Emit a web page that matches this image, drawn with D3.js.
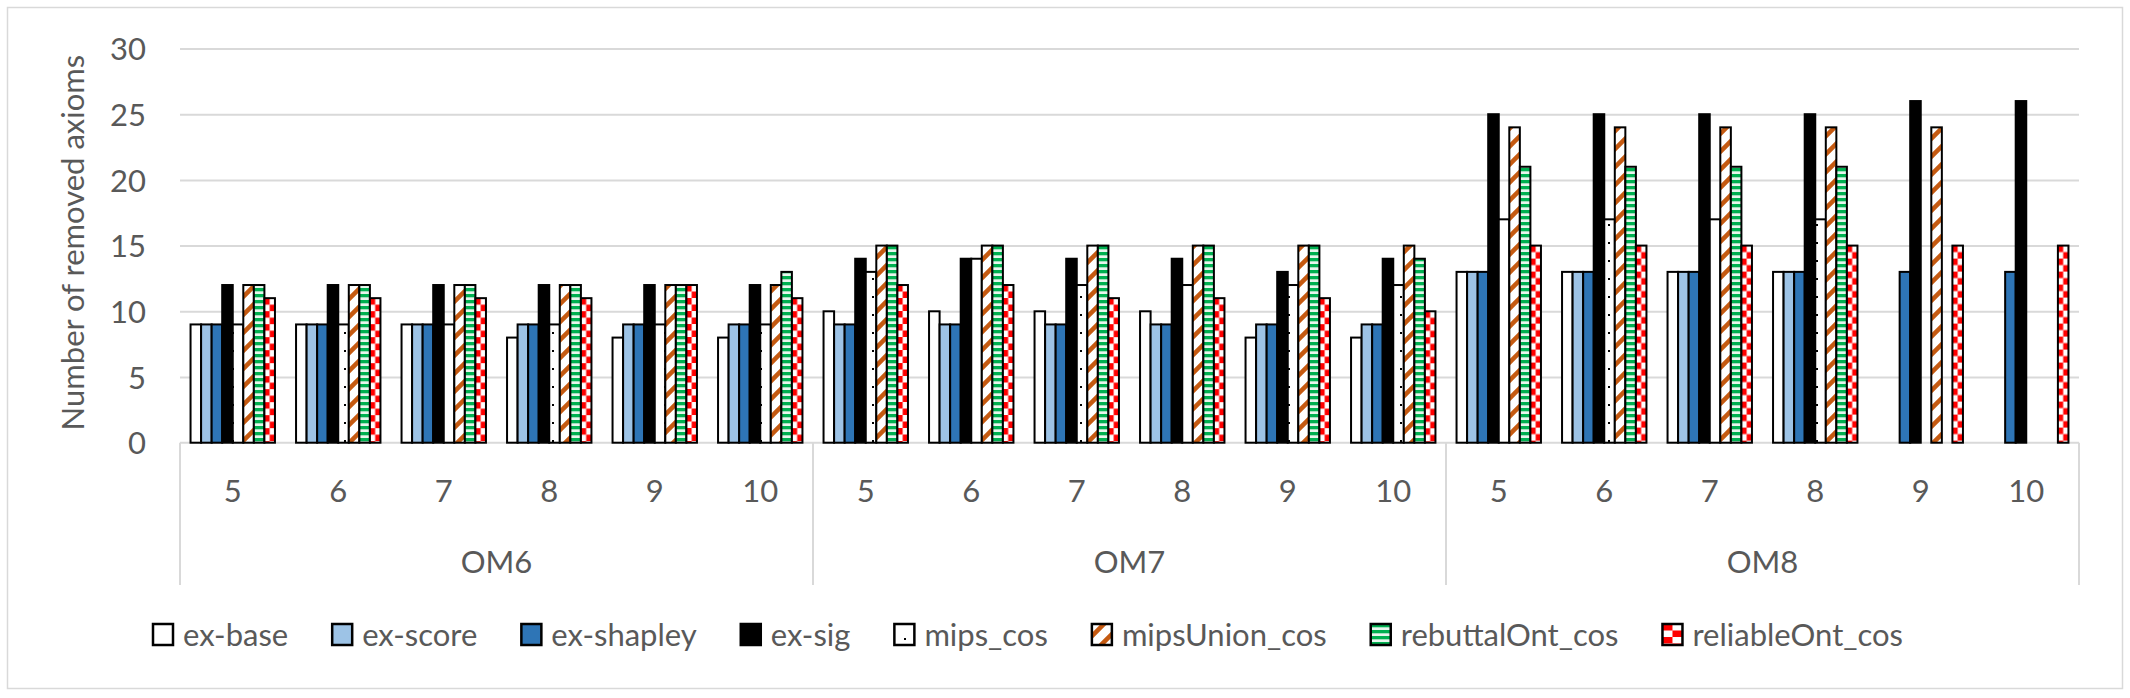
<!DOCTYPE html>
<html>
<head>
<meta charset="utf-8">
<script src="https://cdn.jsdelivr.net/npm/d3@7"></script>
<style>
  html, body { margin: 0; padding: 0; background: #fff; }
  svg { display: block; }
  text { font-family: Lato, "Open Sans", sans-serif; fill: #595959; }
</style>
</head>
<body>
<svg id="chart" width="2130" height="698"></svg>
<script>
// ---------- DATA ----------
const groups = ["OM6", "OM7", "OM8"];
const subLabels = ["5", "6", "7", "8", "9", "10"];
const seriesNames = ["ex-base", "ex-score", "ex-shapley", "ex-sig", "mips_cos", "mipsUnion_cos", "rebuttalOnt_cos", "reliableOnt_cos"];
const yTicks = [0, 5, 10, 15, 20, 25, 30];

const exBase         = [9, 9, 9, 8, 8, 8,   10, 10, 10, 10, 8, 8,   13, 13, 13, 13, 0, 0];
const exScore        = [9, 9, 9, 9, 9, 9,   9, 9, 9, 9, 9, 9,       13, 13, 13, 13, 0, 0];
const exShapley      = [9, 9, 9, 9, 9, 9,   9, 9, 9, 9, 9, 9,       13, 13, 13, 13, 13, 13];
const exSig          = [12, 12, 12, 12, 12, 12, 14, 14, 14, 14, 13, 14, 25, 25, 25, 25, 26, 26];
const mipsCos        = [9, 9, 9, 9, 9, 9,   13, 14, 12, 12, 12, 12, 17, 17, 17, 17, 0, 0];
const mipsUnionCos   = [12, 12, 12, 12, 12, 12, 15, 15, 15, 15, 15, 15, 24, 24, 24, 24, 24, 0];
const rebuttalOntCos = [12, 12, 12, 12, 12, 13, 15, 15, 15, 15, 15, 14, 21, 21, 21, 21, 0, 0];
const reliableOntCos = [11, 11, 11, 11, 12, 11, 12, 12, 11, 11, 11, 10, 15, 15, 15, 15, 15, 15];

const seriesValues = [exBase, exScore, exShapley, exSig, mipsCos, mipsUnionCos, rebuttalOntCos, reliableOntCos];

// ---------- LAYOUT ----------
const svg = d3.select("#chart");
const plotLeft = 180, plotRight = 2079, plotTop = 48.5, plotBottom = 442.7;
const boxBottom = 585;
const textColor = "#595959";
const gridColor = "#D9D9D9";
const fontSize = "31px";

const categoryKeys = [];
groups.forEach(g => subLabels.forEach(s => categoryKeys.push(g + "|" + s)));

// background + outer border
svg.append("rect").attr("x", 0).attr("y", 0).attr("width", 2130).attr("height", 698).attr("fill", "#fff");
svg.append("rect").attr("x", 7.5).attr("y", 7.5).attr("width", 2115).attr("height", 681)
  .attr("fill", "none").attr("stroke", gridColor).attr("stroke-width", 1.5);

// ---------- SCALES ----------
const y = d3.scaleLinear().domain([0, 30]).range([plotBottom, plotTop]);
const x0 = d3.scaleBand().domain(categoryKeys).range([plotLeft, plotRight]).paddingInner(0.2).paddingOuter(0.1);
const x1 = d3.scaleBand().domain(seriesNames).range([0, x0.bandwidth()]).padding(0);
const xGroup = d3.scaleBand().domain(groups).range([plotLeft, plotRight]).padding(0);

// ---------- PATTERNS ----------
const defs = svg.append("defs");
// mips_cos: sparse dots
const pDots = defs.append("pattern").attr("id", "p-dots").attr("patternUnits", "userSpaceOnUse")
  .attr("width", 16).attr("height", 18);
pDots.append("rect").attr("width", 16).attr("height", 18).attr("fill", "#fff");
pDots.append("rect").attr("x", 8).attr("y", 8).attr("width", 2).attr("height", 2).attr("fill", "#000");
// mipsUnion_cos: orange upward diagonal
const pDiag = defs.append("pattern").attr("id", "p-diag").attr("patternUnits", "userSpaceOnUse")
  .attr("width", 18).attr("height", 18);
pDiag.append("rect").attr("width", 18).attr("height", 18).attr("fill", "#fff");
pDiag.append("path").attr("d", "M-4.5,4.5 L4.5,-4.5 M0,18 L18,0 M13.5,22.5 L22.5,13.5")
  .attr("stroke", "#C55A11").attr("stroke-width", 4.5);
// rebuttalOnt_cos: green horizontal stripes
const pStripe = defs.append("pattern").attr("id", "p-stripe").attr("patternUnits", "userSpaceOnUse")
  .attr("width", 12).attr("height", 6);
pStripe.append("rect").attr("width", 12).attr("height", 6).attr("fill", "#E8F6ED");
pStripe.append("rect").attr("y", 0).attr("width", 12).attr("height", 3.3).attr("fill", "#00B050");
// reliableOnt_cos: red checkerboard (one pattern per bar so the squares align to the bar)
function makeCheck(id, x0pos, y0pos, w) {
  const cw = w / 2, ch = 6.5;
  const p = defs.append("pattern").attr("id", id).attr("patternUnits", "userSpaceOnUse")
    .attr("x", x0pos).attr("y", y0pos).attr("width", w).attr("height", ch * 2);
  p.append("rect").attr("width", w).attr("height", ch * 2).attr("fill", "#fff");
  p.append("rect").attr("x", 0).attr("y", 0).attr("width", cw).attr("height", ch).attr("fill", "#FF0000");
  p.append("rect").attr("x", cw).attr("y", ch).attr("width", cw).attr("height", ch).attr("fill", "#FF0000");
  return "url(#" + id + ")";
}

const seriesFills = ["#FFFFFF", "#9DC3E6", "#2E75B6", "#000000", "url(#p-dots)", "url(#p-diag)", "url(#p-stripe)", null];

// ---------- GRIDLINES ----------
const grid = svg.append("g").attr("transform", `translate(${plotLeft},0)`)
  .call(d3.axisLeft(y).tickValues(yTicks.filter(t => t > 0)).tickSize(-(plotRight - plotLeft)).tickFormat(""));
grid.select(".domain").remove();
grid.selectAll("line").attr("stroke", gridColor).attr("stroke-width", 2);

// Y axis labels
const yAxis = svg.append("g").attr("transform", `translate(146,0)`)
  .call(d3.axisLeft(y).tickValues(yTicks).tickSize(0).tickPadding(0));
yAxis.select(".domain").remove();
yAxis.selectAll("text").style("font-family", "Lato, sans-serif").style("font-size", fontSize)
  .attr("fill", textColor).attr("dy", "0.36em");

// Y axis title
svg.append("text")
  .attr("transform", `translate(72,${(plotTop + plotBottom) / 2 - 3}) rotate(-90)`)
  .attr("text-anchor", "middle").attr("dominant-baseline", "central")
  .style("font-size", fontSize).text("Number of removed axioms");

// ---------- CATEGORY AXIS BOX ----------
svg.append("line").attr("x1", plotLeft).attr("x2", plotRight).attr("y1", plotBottom).attr("y2", plotBottom)
  .attr("stroke", gridColor).attr("stroke-width", 2);
const sepX = [plotLeft].concat(groups.map(g => xGroup(g) + xGroup.bandwidth()));
svg.selectAll(".sep").data(sepX).enter().append("line").attr("class", "sep")
  .attr("x1", d => d).attr("x2", d => d).attr("y1", plotBottom).attr("y2", boxBottom)
  .attr("stroke", gridColor).attr("stroke-width", 2);

const xAxis = svg.append("g").attr("transform", `translate(0,480)`)
  .call(d3.axisBottom(x0).tickSize(0).tickPadding(0).tickFormat(d => d.split("|")[1]));
xAxis.select(".domain").remove();
xAxis.selectAll("text").style("font-family", "Lato, sans-serif").style("font-size", fontSize)
  .attr("fill", textColor).attr("dy", "0.71em").attr("y", 0);

const gAxis = svg.append("g").attr("transform", `translate(0,551)`)
  .call(d3.axisBottom(xGroup).tickSize(0).tickPadding(0));
gAxis.select(".domain").remove();
gAxis.selectAll("text").style("font-family", "Lato, sans-serif").style("font-size", fontSize)
  .attr("fill", textColor).attr("dy", "0.71em").attr("y", 0);

// ---------- BARS ----------
const barData = [];
categoryKeys.forEach((k, i) => {
  seriesNames.forEach((s, j) => {
    barData.push({ key: k, series: s, value: seriesValues[j][i], idx: j, i: i });
  });
});
const bw = x1.bandwidth();
svg.append("g").selectAll("rect").data(barData.filter(d => d.value > 0)).enter().append("rect")
  .attr("x", d => x0(d.key) + x1(d.series))
  .attr("y", d => y(d.value))
  .attr("width", bw)
  .attr("height", d => y(0) - y(d.value))
  .attr("fill", d => d.idx === 7
      ? makeCheck("p-check-" + d.i, x0(d.key) + x1(d.series), y(d.value), bw)
      : seriesFills[d.idx])
  .attr("stroke", "#000").attr("stroke-width", 2);

// ---------- LEGEND ----------
const legend = svg.append("g");
let lx = 153;
const ly = 624, mw = 20, mh = 21;
seriesNames.forEach((s, j) => {
  const g = legend.append("g");
  const fill = j === 7 ? makeCheck("p-check-legend", lx, ly, mw) : seriesFills[j];
  g.append("rect").attr("x", lx).attr("y", ly).attr("width", mw).attr("height", mh)
    .attr("fill", fill).attr("stroke", "#000").attr("stroke-width", 2.5);
  const t = g.append("text").attr("x", lx + mw + 10).attr("y", ly + mh / 2).attr("dy", "0.36em")
    .style("font-size", fontSize).text(s);
  lx += mw + 10 + t.node().getComputedTextLength() + 44;
});
</script>
</body>
</html>
